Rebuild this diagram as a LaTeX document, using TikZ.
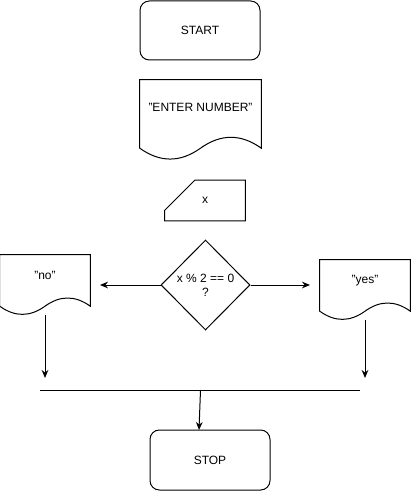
\documentclass[tikz,border=0pt]{standalone}
\usepackage{fontspec}
\setmainfont{Liberation Sans}
\usetikzlibrary{positioning, arrows.meta, shapes.geometric, calc}

% outline of a document symbol (wavy bottom edge) around a node
\newcommand{\docoutline}[1]{%
  \draw[line width=0.75pt] let \p1=(#1.north west), \p2=(#1.south east),
      \n1={\x2-\x1}, \n2={\y2-\y1} in
    (\p1) -- (\x2,\y1) -- ({\x2},{\y1+0.85*\n2})
    .. controls ({\x1+0.8333*\n1},{\y1+0.67*\n2}) and ({\x1+0.6667*\n1},{\y1+0.67*\n2}) .. ({\x1+0.5*\n1},{\y1+0.85*\n2})
    .. controls ({\x1+0.3333*\n1},{\y1+1.03*\n2}) and ({\x1+0.1667*\n1},{\y1+1.03*\n2}) .. ({\x1},{\y1+0.85*\n2})
    -- cycle;}

\begin{document}
\begin{tikzpicture}[x=0.75pt, y=-0.75pt,
  every node/.style={font=\fontsize{9pt}{10.5pt}\selectfont},
  term/.style={draw, line width=0.75pt, rounded corners=7pt, minimum width=90pt, minimum height=45pt},
  docbox/.style={inner sep=0pt, minimum width=67.5pt, minimum height=45pt},
  inbox/.style={inner sep=0pt, minimum width=60pt, minimum height=30pt},
  decision/.style={draw, line width=0.75pt, diamond, aspect=1, inner sep=0pt, align=center,
    minimum width=66.75pt, minimum height=67.5pt},
  arr/.style={-{Stealth[length=6pt,width=5pt]}, line width=0.75pt}]
  \useasboundingbox (0,0) rectangle (411,492);
  % start
  \node[term, minimum height=44.25pt] (start) at (200,30.5) {START};
  % prompt
  \node[docbox, minimum width=90.75pt, minimum height=60pt] (enter) at (200.5,120) {};
  \node (entertext) at ($(enter.north)!0.35!(enter.south)$) {"ENTER NUMBER"};
  \docoutline{enter}
  % input x
  \node[inbox] (input) at (205,200.5) {x};
  \draw[line width=0.75pt] ($(input.north west)+(30,0)$) -- (input.north east) -- (input.south east)
    -- (input.south west) -- ($(input.north west)+(0,30)$) -- cycle;
  % decision
  \node[decision] (test) at (205.5,285) {x \% 2 == 0\\?};
  % outputs
  \node[docbox] (no) at (45,285) {};
  \node (notext) at ($(no.north)!0.35!(no.south)$) {"no"};
  \docoutline{no}
  \node[docbox] (yes) at (365,290) {};
  \node (yestext) at ($(yes.north)!0.35!(yes.south)$) {"yes"};
  \docoutline{yes}
  % stop
  \node[term] (stop) at (210,460) {STOP};
  % free ends
  \coordinate (noend) at (100,285);
  \coordinate (yesend) at (310,285);
  \coordinate (nodrop) at (45,378);
  \coordinate (yesdrop) at (365,378);
  \coordinate (joinl) at (40,390);
  \coordinate (joinr) at (360,390);
  \coordinate (joinm) at (200.5,390);
  \coordinate (stoptop) at (199,430);
  % connectors
  \draw[arr] (test.west) -- (noend);
  \draw[arr] (test.east) -- (yesend);
  \draw[arr] (no.south) -- (nodrop);
  \draw[arr] (yes.south) -- (yesdrop);
  \draw[line width=0.75pt] (joinl) -- (joinr);
  \draw[arr] (joinm) -- (stoptop);
\end{tikzpicture}
\end{document}
